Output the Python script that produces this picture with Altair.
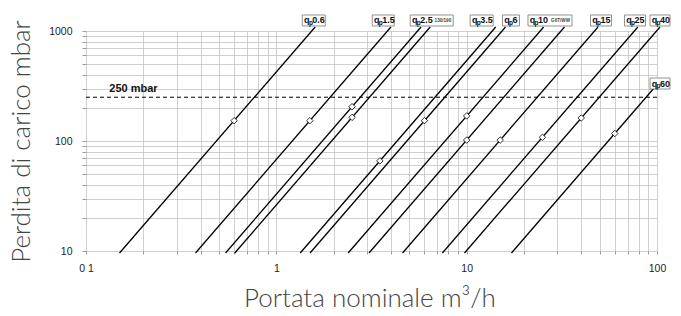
import altair as alt
import pandas as pd

# ---- data ----
series = ["qp0.6", "qp1.5", "qp2.5a", "qp2.5b", "qp3.5", "qp6",
          "qp10a", "qp10b", "qp15", "qp25", "qp40", "qp60"]
# marker at nominal flow (m3/h) and its pressure loss (mbar)
marker_q = [0.6, 1.5, 2.5, 2.5, 3.5, 6, 10, 10, 15, 25, 40, 60]
marker_dp = [153, 153, 205, 164, 66, 153, 169, 102, 102, 108, 162, 117]
# line end points (flow, pressure loss)
start_q = [0.150, 0.376, 0.541, 0.605, 1.335, 1.503, 2.384, 3.068, 4.603, 7.455, 9.741, 17.19]
start_dp = [9.6, 9.6, 9.6, 9.6, 9.6, 9.6, 9.6, 9.6, 9.6, 9.6, 9.6, 9.6]
end_q = [1.600, 4.000, 5.758, 6.435, 14.21, 16.00, 25.38, 32.66, 48.99, 79.34, 103.7, 101.2]
end_dp = [1087, 1087, 1087, 1087, 1087, 1087, 1087, 1087, 1087, 1087, 1087, 333]

label_q_letter = ["q"] * 10
label_sub = ["p"] * 10
label_num = ["0.6", "1.5", "2.5", "3.5", "6", "10", "15", "25", "40", "60"]
label_suffix = ["", "", "130/190", "", "", "G6T/WW", "", "", "", ""]
label_q = [1.573, 3.645, 6.55, 11.99, 17.1, 27.4, 50.8, 76.6, 103.7, 103.7]
label_dp = [1246, 1246, 1246, 1246, 1246, 1246, 1246, 1246, 1246, 333]
box_w = [23, 22, 43, 23, 17, 44, 21, 21, 20, 20]

ref_dp = [250]
ref_text = ["250 mbar"]
ref_text_q = [0.1775]
ref_text_dp = [297]

x_ticks = [m * 10.0 ** e for e in (-1, 0, 1) for m in range(1, 10)] + [100]
y_ticks = [m * 10 ** e for e in (1, 2) for m in range(1, 10)] + [1000]

# ---- layout ----
W, H = 571, 220
ppd_x = W / 3.0
ppd_y = H / 2.0

lines_df = pd.DataFrame({
    "series": series + series,
    "q": start_q + end_q,
    "dp": start_dp + end_dp,
})
markers_df = pd.DataFrame({"series": series, "q": marker_q, "dp": marker_dp})

hh = 10 ** (5.5 / ppd_y)
boxes_df = pd.DataFrame({
    "qq": label_q_letter,
    "sub": label_sub,
    "num": label_num,
    "suffix": label_suffix,
    "q": [q * 10 ** (-w / 2 / ppd_x) for q, w in zip(label_q, box_w)],
    "q2": [q * 10 ** (w / 2 / ppd_x) for q, w in zip(label_q, box_w)],
    "dp": [d / hh for d in label_dp],
    "dp2": [d * hh for d in label_dp],
    "dpc": label_dp,
})
ref_df = pd.DataFrame({"dp": ref_dp})
ref_txt_df = pd.DataFrame({"t": ref_text, "q": ref_text_q, "dp": ref_text_dp})

xscale = alt.Scale(type="log", domain=[0.1, 100], nice=False)
yscale = alt.Scale(type="log", domain=[10, 1000], nice=False)

x_axis = alt.Axis(
    values=x_ticks, grid=True, gridColor="#bbbbbb", gridWidth=0.7,
    domain=False, ticks=True, tickSize=3, tickColor="#999999",
    labelExpr="datum.value == 0.1 ? '0 1' : (datum.value == 1 ? '1' : (datum.value == 10 ? '10' : (datum.value == 100 ? '100' : '')))",
    labelFont="Liberation Sans", labelFontSize=10.5, labelColor="#222222",
    labelPadding=9, labelOverlap=False, labelFlush=False, labelBound=False,
    title="Portata nominale m³/h", titleFont="Lato", titleFontWeight=300,
    titleFontSize=26, titleColor="#444444", titleX=W / 2 - 2, titleY=55,
    titleBaseline="alphabetic", titleAlign="center",
)
y_axis = alt.Axis(
    values=y_ticks, grid=True, gridColor="#bbbbbb", gridWidth=0.7,
    domain=False, ticks=True, tickSize=4, tickColor="#999999",
    labelExpr="indexof([10, 100, 1000], datum.value) >= 0 ? format(datum.value, 'd') : ''",
    labelFont="Liberation Sans", labelFontSize=10.5, labelColor="#222222",
    labelPadding=10, labelOverlap=False, labelFlush=False, labelBound=False,
    title="Perdita di carico mbar", titleFont="Lato", titleFontWeight=300,
    titleFontSize=26, titleColor="#444444", titleX=-57, titleY=H / 2,
    titleBaseline="alphabetic", titleAlign="center", titleAngle=270,
)

X = alt.X("q:Q", scale=xscale, axis=x_axis)
Y = alt.Y("dp:Q", scale=yscale, axis=y_axis)
X2 = alt.X("q2:Q", scale=xscale, axis=x_axis)
YC = alt.Y("dpc:Q", scale=yscale, axis=y_axis)

lines = alt.Chart(lines_df).mark_line(color="black", strokeWidth=1.3).encode(
    x=X, y=Y, detail="series:N"
)

ref_rule = alt.Chart(ref_df).mark_rule(
    color="black", strokeWidth=1, strokeDash=[4, 3]
).encode(y=Y)

ref_label = alt.Chart(ref_txt_df).mark_text(
    font="Liberation Sans", fontWeight="bold", fontSize=11, color="#111111",
    align="center", baseline="middle"
).encode(x=X, y=Y, text="t:N")

markers = alt.Chart(markers_df).mark_point(
    shape="diamond", filled=True, fill="white", stroke="black",
    strokeWidth=0.8, size=42, opacity=1
).encode(x=X, y=Y)

boxes = alt.Chart(boxes_df).mark_rect(
    fill="white", stroke="#777777", strokeWidth=0.8
).encode(x=X, x2="q2:Q", y=Y, y2="dp2:Q")

lab_font = "Liberation Sans Narrow, Liberation Sans"
q_txt = alt.Chart(boxes_df).mark_text(
    font=lab_font, fontWeight="bold", fontSize=9, color="#111111",
    align="left", baseline="middle", dx=1.8
).encode(x=X, y=YC, text="qq:N")

sub_txt = alt.Chart(boxes_df).mark_text(
    font=lab_font, fontWeight="bold", fontSize=6.5, color="#111111",
    align="left", baseline="middle", dx=6.6, dy=2.5
).encode(x=X, y=YC, text="sub:N")

num_txt = alt.Chart(boxes_df).mark_text(
    font=lab_font, fontWeight="bold", fontSize=9, color="#111111",
    align="left", baseline="middle", dx=10
).encode(x=X, y=YC, text="num:N")

suffix_txt = alt.Chart(boxes_df).mark_text(
    font="Liberation Sans", fontWeight="bold", fontSize=4.6, color="#444444",
    align="right", baseline="middle", dx=-2, dy=1
).encode(x=X2, y=YC, text="suffix:N")

chart = alt.layer(
    lines, ref_rule, ref_label, markers, boxes, q_txt, sub_txt, num_txt, suffix_txt
).properties(
    width=W, height=H,
    autosize=alt.AutoSizeParams(type="none"),
    padding={"left": 78, "top": 23, "right": 16, "bottom": 57},
).configure_view(stroke=None)

chart.save("out.html", embed_options={"renderer": "svg", "actions": False})
